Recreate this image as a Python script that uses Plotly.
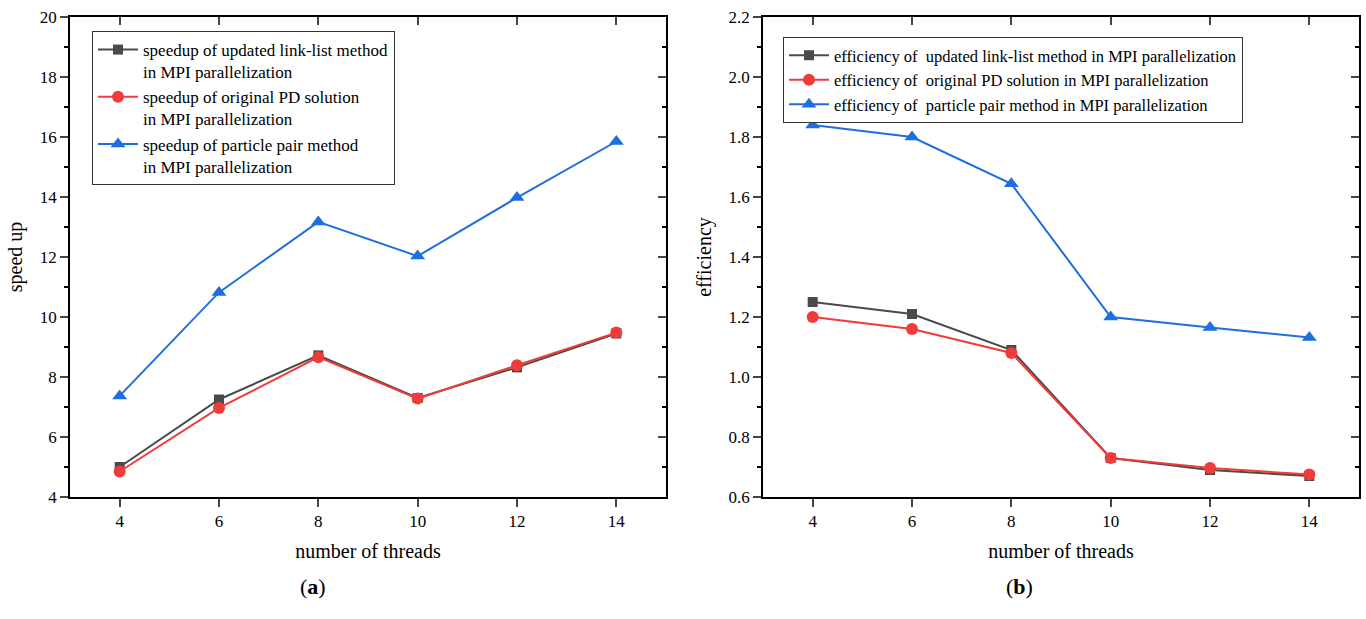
import plotly.graph_objects as go

# Thread counts shared by both panels
threads = [4, 6, 8, 10, 12, 14]

# (a) speedup values
speedup_linklist = [5.00, 7.25, 8.72, 7.30, 8.32, 9.45]
speedup_original = [4.85, 6.97, 8.66, 7.28, 8.39, 9.48]
speedup_pair = [7.37, 10.82, 13.17, 12.03, 13.98, 15.85]

# (b) efficiency values
eff_linklist = [1.25, 1.21, 1.09, 0.73, 0.69, 0.67]
eff_original = [1.20, 1.16, 1.08, 0.73, 0.697, 0.675]
eff_pair = [1.84, 1.80, 1.644, 1.20, 1.165, 1.132]

names_a = [
    "speedup of updated link-list method<br>in MPI parallelization",
    "speedup of original PD solution<br>in MPI parallelization",
    "speedup of particle pair method<br>in MPI parallelization",
]
names_b = [
    "efficiency of  updated link-list method in MPI parallelization",
    "efficiency of  original PD solution in MPI parallelization",
    "efficiency of  particle pair method in MPI parallelization",
]

GRAY = "#4a4a4a"
RED = "#f03b3b"
BLUE = "#1e6ee0"
colors = [GRAY, RED, BLUE]
symbols = ["square", "circle", "triangle-up"]
msizes = [10, 12, 13]

FONT = "Liberation Serif"
W, H = 1366, 619

fig = go.Figure()

for i, ys in enumerate([speedup_linklist, speedup_original, speedup_pair]):
    fig.add_trace(go.Scatter(
        x=threads, y=ys, name=names_a[i], mode="lines+markers",
        line=dict(color=colors[i], width=2),
        marker=dict(symbol=symbols[i], size=msizes[i], color=colors[i]),
        xaxis="x", yaxis="y", legend="legend",
    ))

for i, ys in enumerate([eff_linklist, eff_original, eff_pair]):
    fig.add_trace(go.Scatter(
        x=threads, y=ys, name=names_b[i], mode="lines+markers",
        line=dict(color=colors[i], width=2),
        marker=dict(symbol=symbols[i], size=msizes[i], color=colors[i]),
        xaxis="x2", yaxis="y2", legend="legend2",
    ))

# Empty traces so the mirrored frame axes get drawn
for xa, ya in [("x3", "y3"), ("x4", "y4")]:
    fig.add_trace(go.Scatter(x=[None], y=[None], xaxis=xa, yaxis=ya,
                             showlegend=False, hoverinfo="skip"))

xa_dom = [70 / W, 666 / W]
xb_dom = [763 / W, 1359 / W]
y_dom = [1 - 497 / H, 1 - 17 / H]

tickfont = dict(family=FONT, size=17, color="black")
titlefont = dict(family=FONT, size=20, color="black")

def bottom_x(domain, anchor):
    return dict(domain=domain, anchor=anchor, range=[3, 15], automargin=False,
                tickvals=threads, ticks="outside", ticklen=8, tickwidth=1.5,
                showline=True, linecolor="black", linewidth=1.5,
                showgrid=False, zeroline=False, tickfont=tickfont,
                title=dict(text="number of threads", font=titlefont, standoff=14))

def left_y(domain, anchor, rng, dtick, minor, title, fmt):
    return dict(domain=domain, anchor=anchor, range=rng, dtick=dtick,
                automargin=False, tickformat=fmt,
                ticks="outside", ticklen=8, tickwidth=1.5,
                minor=dict(dtick=minor, ticks="outside", ticklen=4, tickwidth=1.5,
                           tickcolor="black", showgrid=False),
                showline=True, linecolor="black", linewidth=1.5,
                showgrid=False, zeroline=False, tickfont=tickfont,
                title=dict(text=title, font=titlefont, standoff=12))

def top_x(overlay, anchor):
    return dict(overlaying=overlay, anchor=anchor, side="top", range=[3, 15],
                automargin=False,
                tickvals=threads, ticks="inside", ticklen=8, tickwidth=1.5,
                showticklabels=False, showline=True, linecolor="black",
                linewidth=1.5, showgrid=False, zeroline=False)

def right_y(overlay, anchor, rng, dtick, minor):
    return dict(overlaying=overlay, anchor=anchor, side="right", range=rng,
                automargin=False,
                dtick=dtick, ticks="inside", ticklen=8, tickwidth=1.5,
                minor=dict(dtick=minor, ticks="inside", ticklen=4, tickwidth=1.5,
                           tickcolor="black", showgrid=False),
                showticklabels=False, showline=True, linecolor="black",
                linewidth=1.5, showgrid=False, zeroline=False)

legend_common = dict(
    bgcolor="white", bordercolor="#333333", borderwidth=1,
    xanchor="left", yanchor="top", tracegroupgap=0, itemwidth=40,
)

fig.update_layout(
    width=W, height=H,
    margin=dict(l=0, r=0, t=0, b=0),
    paper_bgcolor="white", plot_bgcolor="white",
    font=dict(family=FONT, color="black"),
    xaxis=bottom_x(xa_dom, "y"),
    yaxis=left_y(y_dom, "x", [4, 20], 2, 1, "speed up", "d"),
    xaxis2=bottom_x(xb_dom, "y2"),
    yaxis2=left_y(y_dom, "x2", [0.6, 2.2], 0.2, 0.1, "efficiency", ".1f"),
    xaxis3=top_x("x", "y3"),
    yaxis3=right_y("y", "x3", [4, 20], 2, 1),
    xaxis4=top_x("x2", "y4"),
    yaxis4=right_y("y2", "x4", [0.6, 2.2], 0.2, 0.1),
    legend=dict(x=92 / W, y=1 - 31 / H, valign="top",
                font=dict(family=FONT, size=17, color="black"), **legend_common),
    legend2=dict(x=783 / W, y=1 - 37 / H,
                 font=dict(family=FONT, size=16.5, color="black"), **legend_common),
    annotations=[
        dict(text="(<b>a</b>)", x=298 / W, y=1 - 601 / H,
             xref="paper", yref="paper", showarrow=False,
             font=dict(family=FONT, size=22, color="black")),
        dict(text="(<b>b</b>)", x=1035 / W, y=1 - 601 / H,
             xref="paper", yref="paper", showarrow=False,
             font=dict(family=FONT, size=22, color="black")),
    ],
)

fig.write_html("out.html")
